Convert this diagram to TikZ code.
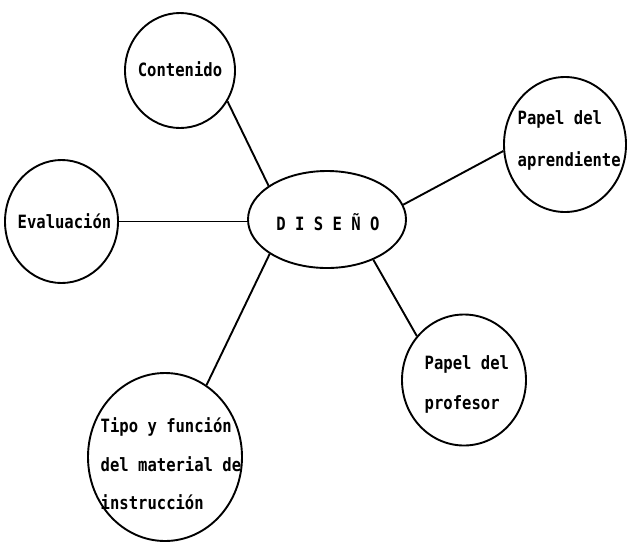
\documentclass[tikz,border=0pt]{standalone}
\usepackage{fontspec}
\setmonofont{DejaVu Sans Mono}[FakeStretch=0.85]
\usetikzlibrary{shapes.geometric}
\begin{document}
\begin{tikzpicture}[x=1pt,y=-1pt,
  bubble/.style={draw, ellipse, inner sep=0pt, line width=1.9pt},
  caption/.style={font=\ttfamily\bfseries\fontsize{18.3}{40}\selectfont, inner sep=0pt, align=left},
  link/.style={line width=1.9pt}]
% page area
\fill[white] (0,0) rectangle (629,542);
\useasboundingbox (0,0) rectangle (629,542);

% central topic and the surrounding bubbles
\node[bubble, minimum width=158pt, minimum height=97pt]  (diseno) at (327,219.5) {};
\node[bubble, minimum width=110pt, minimum height=115pt] (cont)   at (180,70.5) {};
\node[bubble, minimum width=113pt, minimum height=123pt] (eval)   at (61.5,221.5) {};
\node[bubble, minimum width=122pt, minimum height=135pt] (aprend) at (565,144.5) {};
\node[bubble, minimum width=124pt, minimum height=131pt] (prof)   at (464,380) {};
\node[bubble, minimum width=154pt, minimum height=168pt] (tipo)   at (165,457) {};

% texts (multi-line nodes sit on the baseline of their last line)
\node[caption, anchor=base] (diseno-t) at (328,230) {D I S E Ñ O};
\node[caption, anchor=base] (cont-t)   at (180,76) {Contenido};
\node[caption, anchor=base] (eval-t)   at (64.5,228.5) {Evaluación};
\node[caption, anchor=base west, font=\ttfamily\bfseries\fontsize{18.3}{42}\selectfont]
  (aprend-t) at (517.5,166.5) {Papel del\\aprendiente};
\node[caption, anchor=base west] (prof-t) at (424.5,409.7) {Papel del\\profesor};
\node[caption, anchor=base west, font=\ttfamily\bfseries\fontsize{18.3}{38.5}\selectfont]
  (tipo-t) at (100.5,509.7) {Tipo y función\\del material de\\instrucción};

% spokes
\draw[link] (cont.-33) -- (diseno.150);
\draw[link] (eval.east) -- (eval.east -| diseno.west);
\draw[link] (aprend.186) -- (diseno.11);
\draw[link] (prof.137) -- (diseno.-41);
\draw[link] (tipo.60) -- (diseno.211);
\end{tikzpicture}
\end{document}
